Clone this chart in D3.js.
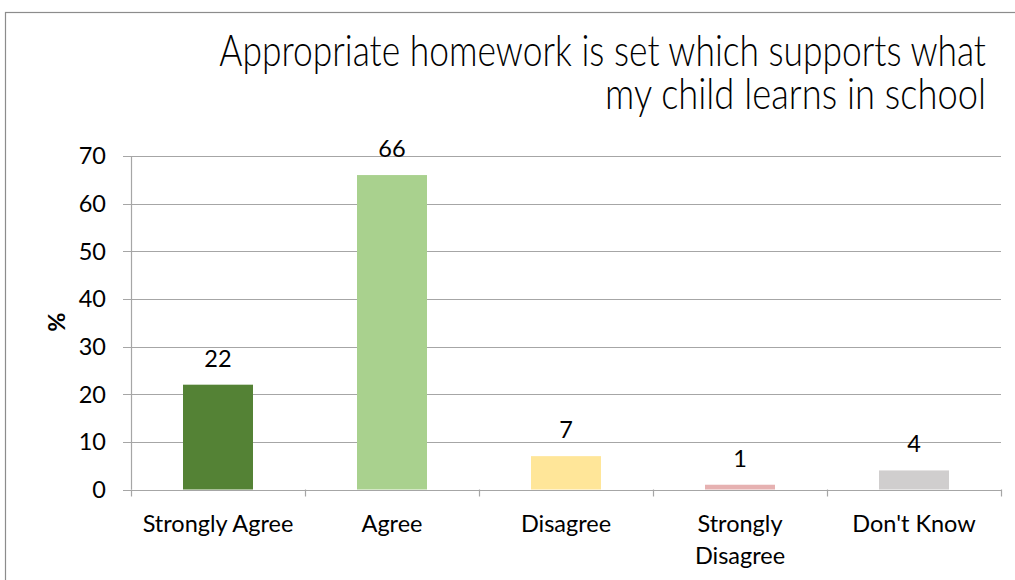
<!DOCTYPE html>
<html><head><meta charset="utf-8">
<script src="https://cdn.jsdelivr.net/npm/d3@7"></script>
<style>body{margin:0;background:#fff}svg{display:block}</style>
</head><body>
<svg id="c" width="1015" height="580"></svg>
<script>
const categories = ["Strongly Agree", "Agree", "Disagree", "Strongly Disagree", "Don't Know"];
const labelLines = [["Strongly Agree"], ["Agree"], ["Disagree"], ["Strongly", "Disagree"], ["Don't Know"]];
const values = [22, 66, 7, 1, 4];
const colors = ["#548235", "#A9D18E", "#FFE699", "#E6B1B1", "#D0CECE"];
const yTicks = [0, 10, 20, 30, 40, 50, 60, 70];
const titleLines = ["Appropriate homework is set which supports what", "my child learns in school"];

const svg = d3.select("#c");
const font = "Lato, 'Open Sans', sans-serif";
const fs = 23.5;
svg.append("rect").attr("x", 5.5).attr("y", 12.5).attr("width", 1030).attr("height", 600)
  .attr("fill", "none").attr("stroke", "#8c8c8c").attr("stroke-width", 1.2);

const pLeft = 131, pRight = 1001, pTop = 156, pBottom = 489.5;
const x = d3.scaleBand().domain(categories).range([pLeft, pRight]).padding(0);
const y = d3.scaleLinear().domain([0, 70]).range([pBottom, pTop]);

// gridlines
svg.append("g").selectAll("line").data(yTicks).join("line")
  .attr("x1", pLeft - 8).attr("x2", pRight).attr("y1", d => Math.round(y(d)) + 0.5).attr("y2", d => Math.round(y(d)) + 0.5)
  .attr("stroke", "#a6a6a6").attr("stroke-width", 1.2);
// y axis line
svg.append("line").attr("x1", pLeft + 0.5).attr("x2", pLeft + 0.5).attr("y1", pTop).attr("y2", pBottom)
  .attr("stroke", "#a6a6a6").attr("stroke-width", 1.2);
// x category ticks
const bounds = categories.map(c => x(c)).concat([pRight]);
svg.append("g").selectAll("line").data(bounds).join("line")
  .attr("x1", d => Math.round(d) + 0.5).attr("x2", d => Math.round(d) + 0.5)
  .attr("y1", pBottom).attr("y2", pBottom + 7).attr("stroke", "#a6a6a6").attr("stroke-width", 1.2);

// y tick labels
svg.append("g").selectAll("text").data(yTicks).join("text")
  .attr("x", 106).attr("y", d => y(d)).attr("dy", "0.36em").attr("text-anchor", "end")
  .attr("font-family", font).attr("font-size", fs).attr("fill", "#000").text(d => d);

// y label
svg.append("text").attr("transform", "translate(65,322) rotate(-90)").attr("text-anchor", "middle")
  .attr("font-family", font).attr("font-weight", "bold").attr("font-size", fs).text("%");

// bars
const bw = 70;
svg.append("g").selectAll("rect").data(values).join("rect")
  .attr("x", (d, i) => x(categories[i]) + x.bandwidth() / 2 - bw / 2)
  .attr("width", bw)
  .attr("y", d => y(d)).attr("height", d => y(0) - y(d))
  .attr("fill", (d, i) => colors[i]);

// value labels
svg.append("g").selectAll("text").data(values).join("text")
  .attr("x", (d, i) => x(categories[i]) + x.bandwidth() / 2)
  .attr("y", d => y(d) - 18).attr("text-anchor", "middle")
  .attr("font-family", font).attr("font-size", fs).text(d => d);

// x labels
const xl = svg.append("g").selectAll("text").data(labelLines).join("text")
  .attr("x", (d, i) => x(categories[i]) + x.bandwidth() / 2)
  .attr("y", 532).attr("text-anchor", "middle")
  .attr("font-family", font).attr("font-size", fs);
xl.selectAll("tspan").data(d => d).join("tspan")
  .attr("x", function() { return this.parentNode.getAttribute("x"); })
  .attr("dy", (d, i) => i === 0 ? 0 : 32).text(d => d);

// title
const tw = [767, 381];
const tg = svg.append("g").selectAll("g").data(titleLines).join("g");
tg.append("text").attr("x", 0).attr("y", 0).attr("text-anchor", "end")
  .attr("font-family", font).attr("font-weight", 300).attr("font-size", 44)
  .text(d => d);
tg.attr("transform", function(d, i) {
  const w = this.querySelector("text").getComputedTextLength();
  const sx = Math.min(1, tw[i] / w);
  return `translate(986,${66 + i * 43}) scale(${sx},1)`;
});
</script>
</body></html>
